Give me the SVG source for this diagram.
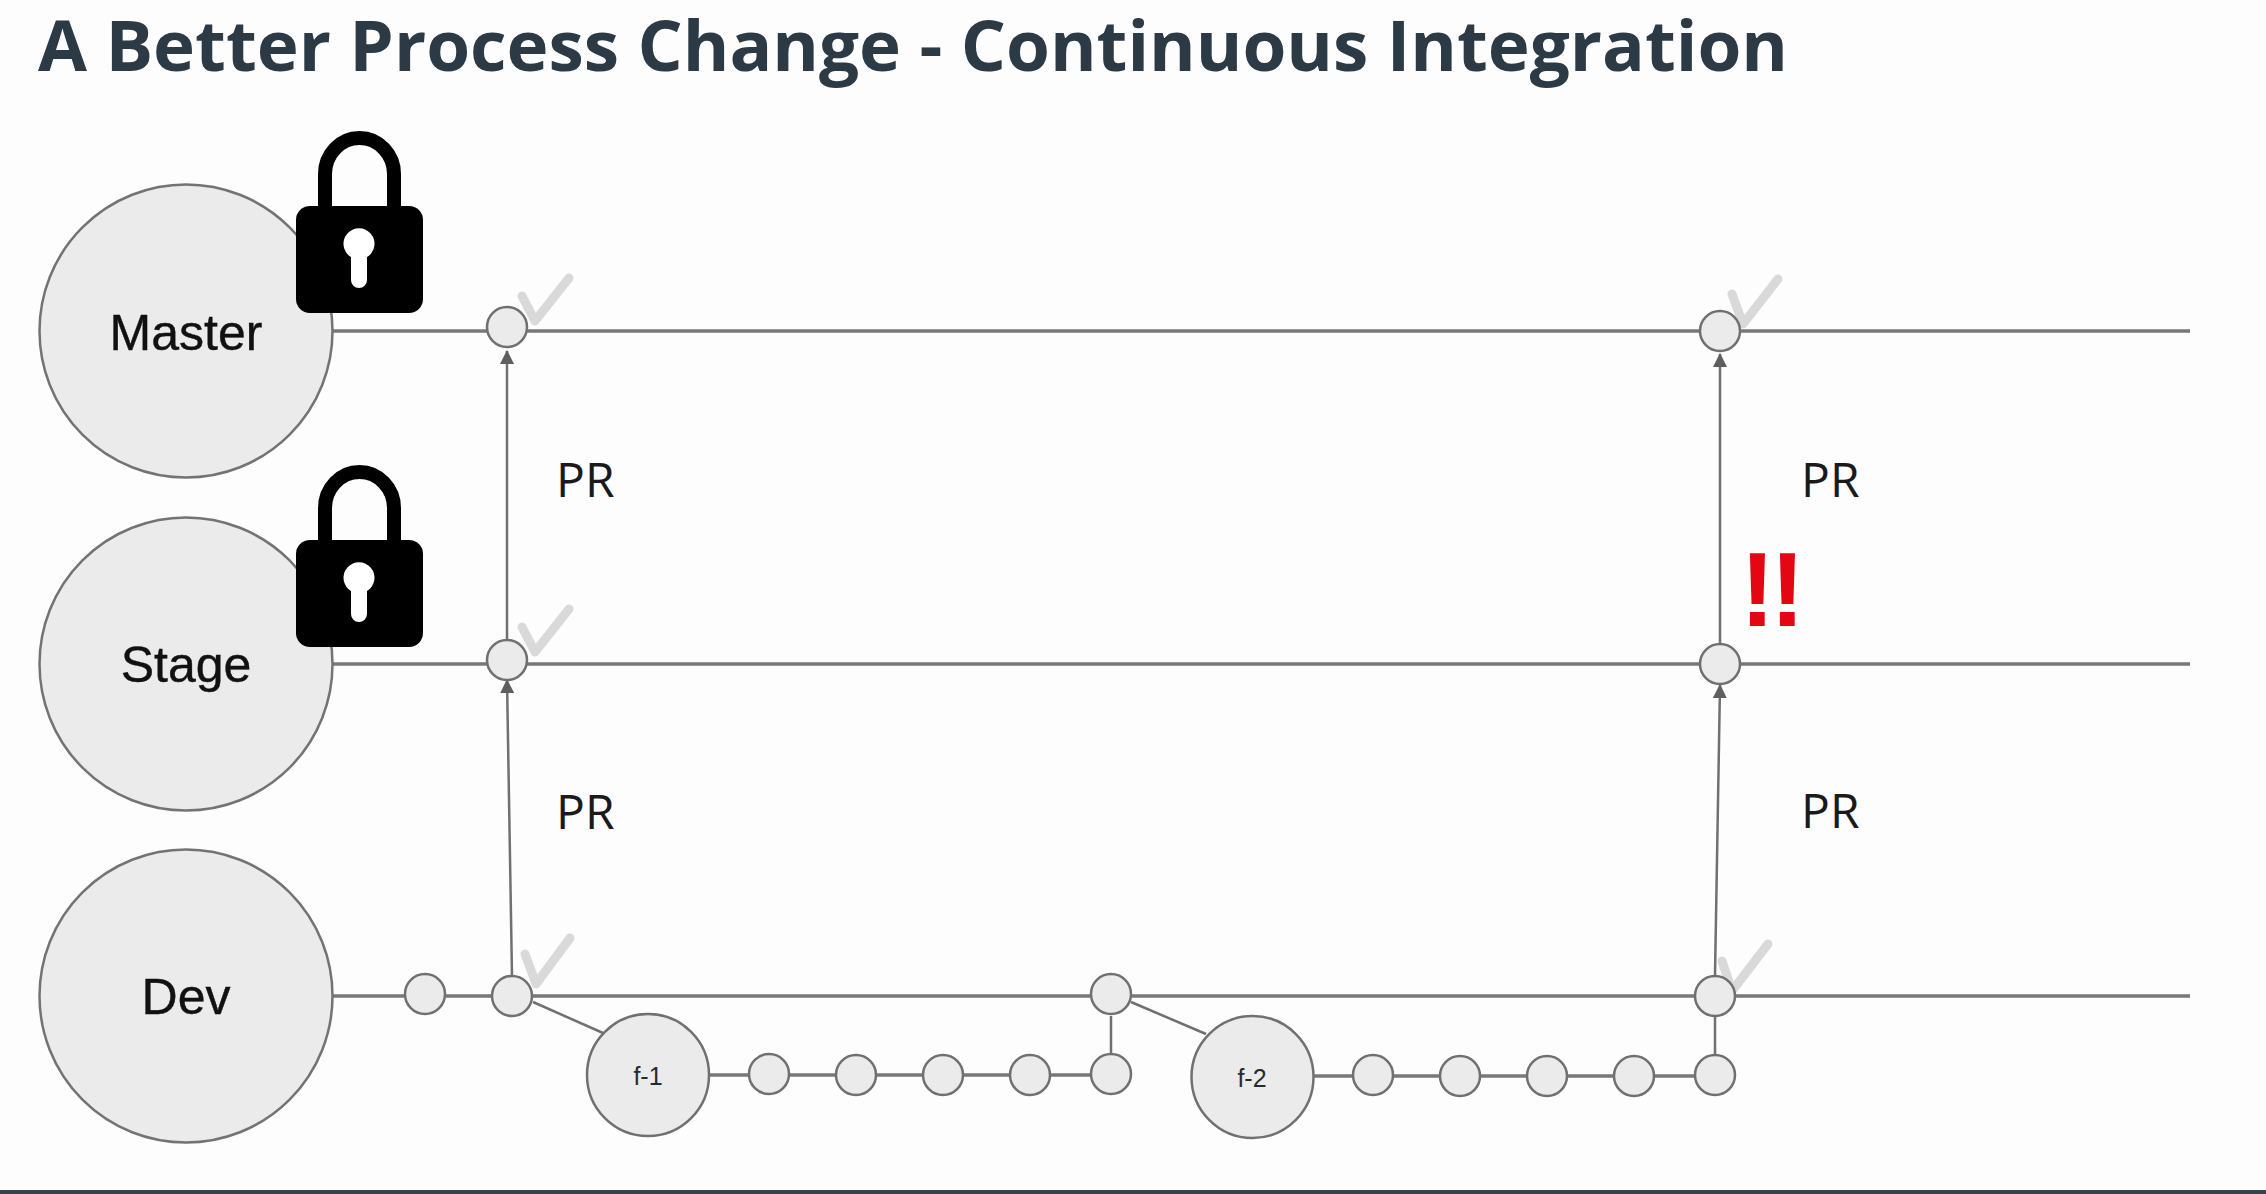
<svg xmlns="http://www.w3.org/2000/svg" width="2266" height="1194" viewBox="0 0 2266 1194">
<style>
.line{stroke:#787878;stroke-width:3.5;fill:none}
.thin{stroke:#707070;stroke-width:2.5;fill:none}
.pr{stroke:#707070;stroke-width:2.5;fill:none;marker-end:url(#arrow)}
.n{fill:#ebebeb;stroke:#707070;stroke-width:2.5}
.c{fill:#ebebeb;stroke:#737373;stroke-width:2.5}
.check{fill:none;stroke:#d9d9d9;stroke-width:9;stroke-linecap:round;stroke-linejoin:round}
.big{font-family:"Liberation Sans",Arial,sans-serif;font-size:50px;fill:#111;text-anchor:middle;stroke:#111;stroke-width:.4}
.small{font-family:"Liberation Sans",Arial,sans-serif;font-size:25px;fill:#2a2a2a;text-anchor:middle}
.prt{font-family:"Open Sans",sans-serif;font-size:48px;fill:#1a1a1a}
</style>
<defs>
<marker id="arrow" viewBox="0 0 14 16" refX="13" refY="8" markerWidth="14" markerHeight="16" markerUnits="userSpaceOnUse" orient="auto"><path d="M0 1L14 8L0 15Z" fill="#5f5f5f"/></marker>
<g id="lock">
<path d="M325 210V174A34.500 36 0 0 1 394 174V210" fill="none" stroke="#000" stroke-width="14"/>
<rect x="296" y="206" width="127" height="107" rx="14" fill="#000"/>
<path d="M351 257A15.500 15.500 0 1 1 367 257L367 280A8 8 0 0 1 351 280Z" fill="#fff"/>
</g>
</defs>
<rect width="2266" height="1194" fill="#fdfdfd"/>
<rect y="1190" width="2266" height="4" fill="#36434d"/>
<text id="title" x="38" y="71" font-family="'Open Sans',sans-serif" font-weight="700" font-size="70" fill="#2b3a45" textLength="1750" lengthAdjust="spacingAndGlyphs">A Better Process Change - Continuous Integration</text>
<g id="connectors">
<path class="line" d="M332 331H2190M332 664H2190M332 996H2190"/>
<path class="thin" d="M533 1002L603 1033M1131 1002L1206 1034M1111 1016V1054M1715 1016V1056"/>
<path class="line" d="M709 1075H1111M1313 1076H1715"/>
<path class="pr" d="M507 639V351"/>
<path class="pr" d="M512 976L507 680"/>
<path class="pr" d="M1720 644V354"/>
<path class="pr" d="M1715 976L1720 685"/>
</g>
<g id="checks">
<path class="check" d="M522 296L535 321L569 278"/>
<path class="check" d="M522 627L535 652L569 609"/>
<path class="check" d="M525 954L536 984L570 938"/>
<path class="check" d="M1732 294L1743 324L1778 279"/>
<path class="check" d="M1722 961L1732 991L1768 944"/>
</g>
<g id="node-master"><circle class="c" cx="186" cy="331" r="146.500"/><text class="big" x="186" y="350">Master</text></g>
<g id="node-stage"><circle class="c" cx="186" cy="664" r="146.500"/><text class="big" x="186" y="682">Stage</text></g>
<g id="node-dev"><circle class="c" cx="186" cy="996" r="146.500"/><text class="big" x="186" y="1014">Dev</text></g>
<g id="lock-master"><use href="#lock"/></g>
<g id="lock-stage"><use href="#lock" y="334"/></g>
<g id="commit-m1"><circle class="n" cx="507" cy="327" r="20"/></g>
<g id="commit-m2"><circle class="n" cx="1720" cy="331" r="20"/></g>
<g id="commit-s1"><circle class="n" cx="507" cy="660" r="20"/></g>
<g id="commit-s2"><circle class="n" cx="1720" cy="664" r="20"/></g>
<g id="commit-d0"><circle class="n" cx="425" cy="994" r="20"/></g>
<g id="commit-d1"><circle class="n" cx="512" cy="996" r="20"/></g>
<g id="commit-d2"><circle class="n" cx="1111" cy="994" r="20"/></g>
<g id="commit-d3"><circle class="n" cx="1715" cy="996" r="20"/></g>
<g id="node-f1"><circle class="n" cx="648" cy="1075" r="61"/><text class="small" x="648" y="1085">f-1</text></g>
<g id="commit-f1a"><circle class="n" cx="769" cy="1074" r="20"/></g>
<g id="commit-f1b"><circle class="n" cx="856" cy="1075" r="20"/></g>
<g id="commit-f1c"><circle class="n" cx="943" cy="1075" r="20"/></g>
<g id="commit-f1d"><circle class="n" cx="1030" cy="1075" r="20"/></g>
<g id="commit-f1e"><circle class="n" cx="1111" cy="1074" r="20"/></g>
<g id="node-f2"><circle class="n" cx="1252.500" cy="1077" r="61"/><text class="small" x="1252" y="1087">f-2</text></g>
<g id="commit-f2a"><circle class="n" cx="1373" cy="1075" r="20"/></g>
<g id="commit-f2b"><circle class="n" cx="1460" cy="1076" r="20"/></g>
<g id="commit-f2c"><circle class="n" cx="1547" cy="1076" r="20"/></g>
<g id="commit-f2d"><circle class="n" cx="1634" cy="1076" r="20"/></g>
<g id="commit-f2e"><circle class="n" cx="1715" cy="1075" r="20"/></g>
<g id="labels">
<text class="prt" x="556" y="497">PR</text>
<text class="prt" x="556" y="829">PR</text>
<text class="prt" x="1801" y="497">PR</text>
<text class="prt" x="1801" y="828">PR</text>
<text x="1740" y="626" font-family="'Liberation Sans',Arial,sans-serif" font-weight="700" font-size="105" fill="#e30613" letter-spacing="-5">!!</text>
</g>
</svg>
